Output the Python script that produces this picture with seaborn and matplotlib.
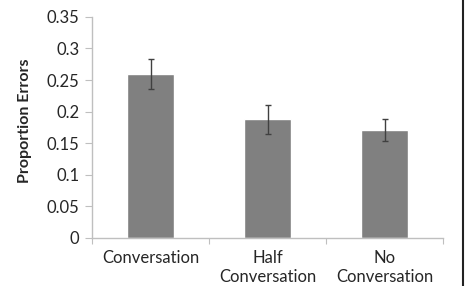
import matplotlib
matplotlib.use('Agg')
import matplotlib.pyplot as plt
import seaborn as sns
import pandas as pd
from matplotlib.lines import Line2D

# values
conditions = ['Conversation', 'Half\nConversation', 'No\nConversation']
errors = [0.260, 0.188, 0.171]
sem = [0.024, 0.023, 0.017]

sns.set_style('white')
plt.rcParams['font.family'] = ['Lato', 'DejaVu Sans']

df = pd.DataFrame({'cond': conditions, 'err': errors})

fig = plt.figure(figsize=(4.65, 2.86), dpi=100)
ax = fig.add_axes([0.198, 0.168, 0.755, 0.773])

sns.barplot(data=df, x='cond', y='err', color='#808080', saturation=1,
            width=0.4, errorbar=None, ax=ax)
ax.errorbar(range(len(errors)), errors, yerr=sem, fmt='none',
            ecolor='#404040', elinewidth=1, capsize=2.5, capthick=1)

ax.set_xlim(-0.5, 2.5)
ax.set_ylim(0, 0.35)
ax.set_yticks([0, 0.05, 0.1, 0.15, 0.2, 0.25, 0.3, 0.35])
ax.set_yticklabels(['0', '0.05', '0.1', '0.15', '0.2', '0.25', '0.3', '0.35'])
ax.set_xlabel('')
ax.set_ylabel('Proportion Errors', fontsize=11.5, fontweight='bold')
ax.yaxis.set_label_coords(-0.17, 0.53)

ax.tick_params(axis='y', which='major', length=5, width=0.8, color='#bfbfbf',
               labelsize=12, pad=4, left=True)
ax.tick_params(axis='x', which='major', length=0, labelsize=12, pad=9)
ax.set_xticks([-0.5, 0.5, 1.5, 2.5], minor=True)
ax.tick_params(axis='x', which='minor', length=4, width=0.8, color='#bfbfbf',
               bottom=True)

sns.despine(ax=ax)
for s in ['left', 'bottom']:
    ax.spines[s].set_color('#bfbfbf')
    ax.spines[s].set_linewidth(1)

# dark frame edge on the right of the image
fig.add_artist(Line2D([0.995, 0.995], [0, 1], transform=fig.transFigure,
                      color='#222222', linewidth=1.5))

fig.savefig('out.png', dpi=100)
